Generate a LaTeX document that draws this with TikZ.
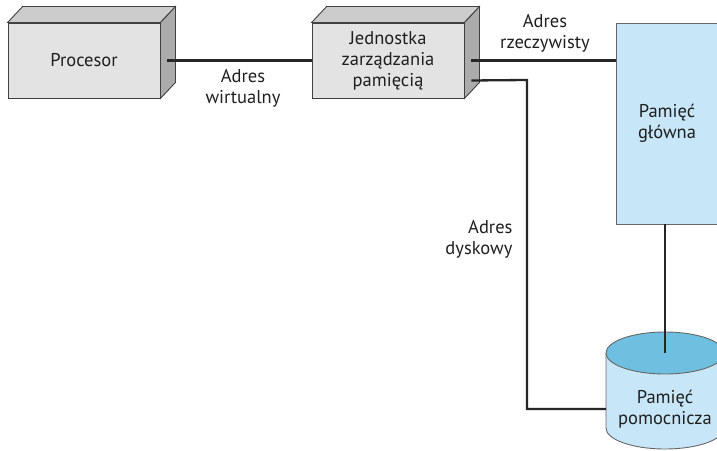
\documentclass[tikz,border=0pt]{standalone}
\usepackage{fontspec}
\setmainfont{PT Sans}
\begin{document}
\begin{tikzpicture}[x=1pt,y=1pt,
  lbl/.style={font=\fontsize{18.5}{21}\selectfont, align=center, text=black!88},
  front/.style={draw=black!75, line width=0.9pt, fill=gray!22, minimum width=152pt, minimum height=75pt, inner sep=0pt, lbl},
  topface/.style={draw=black!75, line width=0.9pt, fill=gray!40},
  sideface/.style={draw=black!75, line width=0.9pt, fill=gray!65},
  conn/.style={line width=2.3pt, draw=black!85}
]
\definecolor{membody}{HTML}{C7E7F8}
\definecolor{memtop}{HTML}{6EBFE0}
\useasboundingbox (0,0) rectangle (717,450);
\clip (0,0) rectangle (717,450);

% Procesor box
\node[front] (proc) at (84,389.5) {Procesor};
\draw[topface] (proc.north west) -- ++(15,16) -- ([shift={(15,16)}]proc.north east) -- (proc.north east) -- cycle;
\draw[sideface] (proc.north east) -- ++(15,16) -- ([shift={(15,16)}]proc.south east) -- (proc.south east) -- cycle;

% MMU box
\node[front] (mmu) at (388,389.5) {Jednostka\\zarządzania\\pamięcią};
\draw[topface] (mmu.north west) -- ++(15,16) -- ([shift={(15,16)}]mmu.north east) -- (mmu.north east) -- cycle;
\draw[sideface] (mmu.north east) -- ++(15,16) -- ([shift={(15,16)}]mmu.south east) -- (mmu.south east) -- cycle;

% Main memory
\node[draw=black!60, line width=0.9pt, fill=membody, minimum width=102pt, minimum height=201pt, inner sep=0pt, lbl] (mem) at (667,326.5) {Pamięć\\główna};

% Secondary memory cylinder
\coordinate (cyltop) at (665,97);
\coordinate (cylleft) at (606,41);
\fill[membody] (606,97) -- (606,22) arc (180:360:59 and 21) -- (724,97) -- cycle;
\draw[black!60, line width=0.9pt] (606,97) -- (606,22) arc (180:360:59 and 21) -- (724,97);
\draw[black!60, line width=0.9pt, fill=memtop] (cyltop) ellipse (59 and 21);
\node[lbl] (sec) at (665,41) {Pamięć\\pomocnicza};

% Connectors
\coordinate (p1) at ([xshift=7pt]proc.east);
\coordinate (m1) at ([xshift=7pt]mmu.east);
\coordinate (m2) at ([xshift=7pt,yshift=-20pt]mmu.east);
\coordinate (bend) at (527,370);
\draw[conn] (p1) -- (mmu.west);
\draw[conn] (m1) -- (m1 -| mem.west);
\draw[conn] (mem.south -| cyltop) -- (cyltop);
\draw[conn] (m2) -- (bend) |- (cylleft);

% Labels
\node[lbl] (lv) at (243,362) {Adres\\wirtualny};
\node[lbl] (lr) at (545,417) {Adres\\rzeczywisty};
\node[lbl, anchor=east, align=right] (ld) at (516,211) {Adres\\dyskowy};
\end{tikzpicture}
\end{document}
